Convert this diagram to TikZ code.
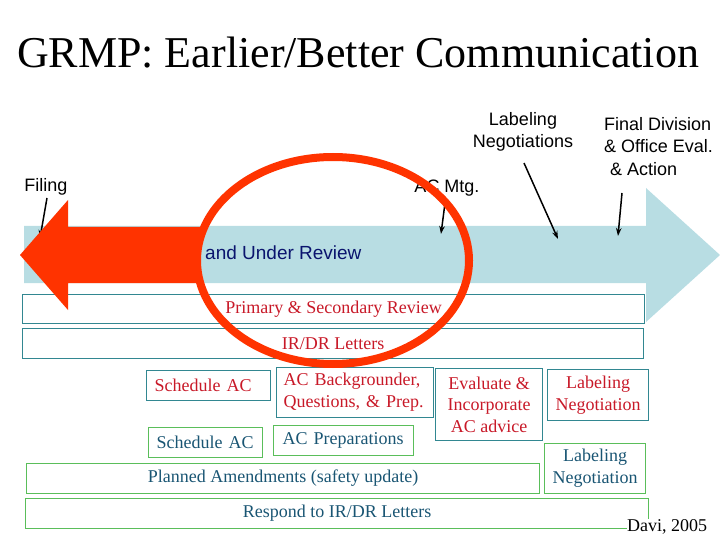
\documentclass[tikz,border=0pt]{standalone}
\usepackage{fontspec}
\setmainfont{Liberation Serif}
\setsansfont{Liberation Sans}
\usetikzlibrary{arrows.meta}

\definecolor{bandblue}{RGB}{184,221,227}
\definecolor{alertred}{RGB}{255,51,0}
\definecolor{navytext}{RGB}{10,20,110}
\definecolor{redtext}{RGB}{200,25,40}
\definecolor{tealtext}{RGB}{25,85,115}
\definecolor{tealline}{RGB}{50,135,145}
\definecolor{greenline}{RGB}{90,190,90}

\begin{document}
\begin{tikzpicture}[x=1pt, y=-1pt,
  every node/.style={font=\fontsize{18}{22}\selectfont, inner sep=0pt},
  sidelabel/.style={font=\sffamily\fontsize{18}{21.5}\selectfont, align=center},
  tealbox/.style={draw=tealline, line width=1.2pt, text=redtext, align=center, anchor=north west},
  greenbox/.style={draw=greenline, line width=1.2pt, text=tealtext, align=center, anchor=north west},
  pointer/.style={-{Stealth[length=8pt,width=5.5pt]}, line width=1.5pt}]
  \useasboundingbox (0,0) rectangle (720,540);

  % Title
  \node[font=\fontsize{44}{50}\selectfont] (title) at (358,53) {GRMP: Earlier/Better Communication};

  % Timeline band
  \fill[bandblue] (24,226) -- (646,226) -- (646,188) -- (720,255) -- (646,322) -- (646,283) -- (24,283) -- cycle;
  \node[anchor=west, font=\sffamily\fontsize{19}{22}\selectfont, text=navytext] (review) at (205,253) {and Under Review};

  % Review rows (teal)
  \node[tealbox, minimum width=622pt, minimum height=29pt] (primary) at (22,294) {Primary \& Secondary Review};
  \node[tealbox, minimum width=621pt, minimum height=30pt] (irdr) at (22,328) {IR/DR Letters};
  \node[tealbox, align=left, inner xsep=8pt, text width=108pt, minimum height=30pt] (schedred) at (146,370) {Schedule AC};
  \node[tealbox, align=left, inner xsep=7pt, text width=143pt, minimum height=50pt] (backgr) at (276,367) {AC Backgrounder,\\Questions, \& Prep.};
  \node[tealbox, minimum width=107pt, minimum height=72pt, font=\fontsize{18}{21.5}\selectfont] (evaluate) at (435,368) {Evaluate \&\\Incorporate\\AC advice};
  \node[tealbox, minimum width=101pt, minimum height=51pt] (labred) at (547,369) {Labeling\\Negotiation};

  % Sponsor rows (green)
  \node[greenbox, align=left, inner xsep=8pt, text width=98pt, minimum height=30pt] (schedgreen) at (148,427) {Schedule AC};
  \node[greenbox, align=left, inner xsep=9pt, text width=122pt, minimum height=30pt] (prep) at (273,425) {AC Preparations};
  \node[greenbox, minimum width=513pt, minimum height=30pt] (amend) at (26,463) {Planned Amendments (safety update)};
  \node[greenbox, minimum width=101pt, minimum height=50pt] (labgreen) at (544,443) {Labeling\\Negotiation};
  \node[greenbox, minimum width=623pt, minimum height=30pt] (respond) at (25,498) {Respond to IR/DR Letters};

  % Milestone labels and pointers
  \node[sidelabel] (filing) at (46,187) {Filing};
  \node[sidelabel] (acmtg) at (447,188) {AC Mtg.};
  \node[sidelabel] (labneg) at (523,132) {Labeling\\Negotiations};
  \node[sidelabel, align=left, anchor=west, font=\sffamily\fontsize{18}{22.5}\selectfont] (final) at (604,146.5) {Final Division\\\& Office Eval.\\\hspace*{6pt}\& Action};

  \coordinate (filing tail) at (47,198);
  \coordinate (filing tip) at (40,238);
  \coordinate (acmtg tail) at (445,203);
  \coordinate (acmtg tip) at (441,234);
  \coordinate (labneg tail) at (524,163);
  \coordinate (labneg tip) at (558,239);
  \coordinate (final tail) at (622,193);
  \coordinate (final tip) at (618,236);
  \draw[pointer] (filing tail) -- (filing tip);
  \draw[pointer] (acmtg tail) -- (acmtg tip);
  \draw[pointer] (labneg tail) -- (labneg tip);
  \draw[pointer] (final tail) -- (final tip);

  % Red arrow and circle on top
  \fill[alertred] (20,255) -- (68,200) -- (68,227) -- (200,227) -- (200,283) -- (68,283) -- (68,310) -- cycle;
  \draw[alertred, line width=8pt] (333,260.5) ellipse [x radius=136pt, y radius=103.5pt];

  % Source
  \node[fill=white, inner sep=0.5pt] (source) at (667,527) {Davi, 2005};
\end{tikzpicture}
\end{document}
